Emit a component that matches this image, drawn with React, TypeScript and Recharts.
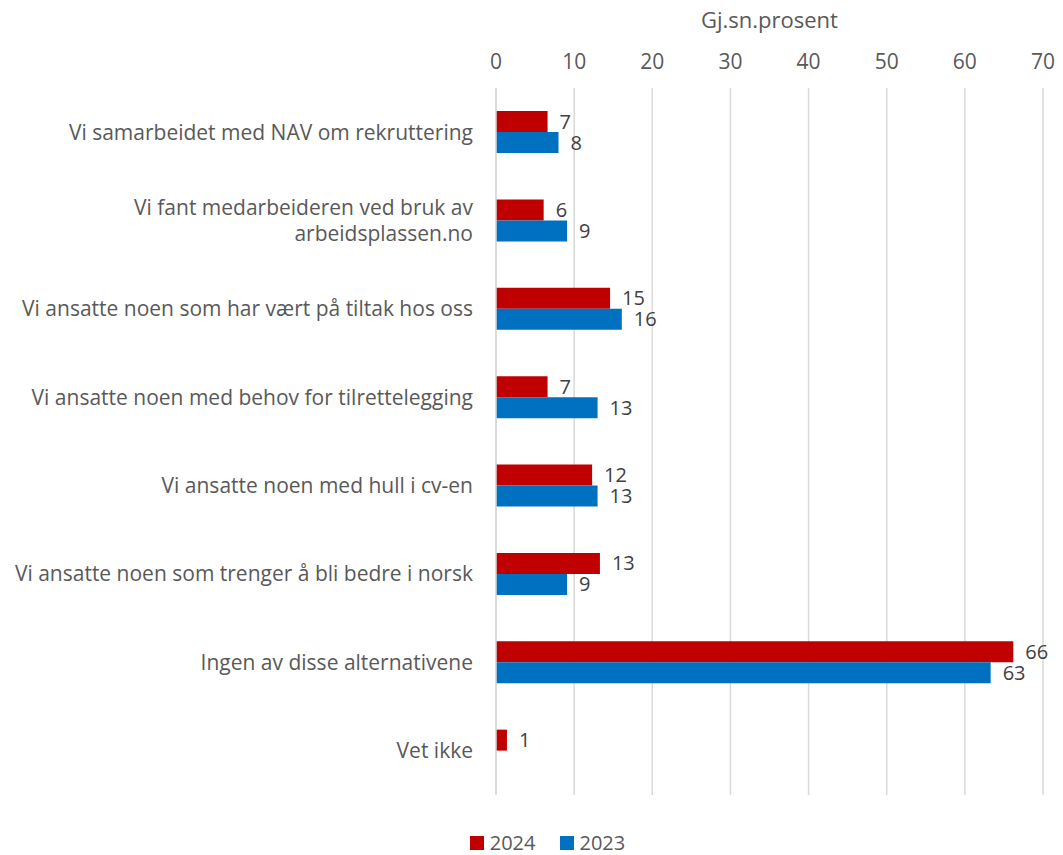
import React from 'react';
import { BarChart, Bar, XAxis, YAxis, CartesianGrid, Legend, LabelList } from 'recharts';

const categories = [
  'Vi samarbeidet med NAV om rekruttering',
  'Vi fant medarbeideren ved bruk av\narbeidsplassen.no',
  'Vi ansatte noen som har vært på tiltak hos oss',
  'Vi ansatte noen med behov for tilrettelegging',
  'Vi ansatte noen med hull i cv-en',
  'Vi ansatte noen som trenger å bli bedre i norsk',
  'Ingen av disse alternativene',
  'Vet ikke',
];
const values2024 = [6.6, 6.1, 14.6, 6.6, 12.3, 13.3, 66.2, 1.4];
const values2023: (number | null)[] = [8.0, 9.1, 16.1, 13.0, 13.0, 9.1, 63.3, null];
const xTicks = [0, 10, 20, 30, 40, 50, 60, 70];
const seriesNames = ['2024', '2023'];
const seriesColors = ['#c00000', '#0070c0'];

const data = categories.map((name, i) => ({
  name,
  y2024: values2024[i],
  y2023: values2023[i],
}));

const FONT = '"Open Sans", sans-serif';
const TEXT = '#595959';
const FS = 21;

const CategoryTick = (props: any) => {
  const { x, y, payload } = props;
  const lines: string[] = String(payload.value).split('\n');
  const lineH = 26;
  const startY = y - ((lines.length - 1) * lineH) / 2;
  return (
    <text x={x} y={startY} textAnchor="end" fill={TEXT} fontSize={FS} fontFamily={FONT}>
      {lines.map((l, i) => (
        <tspan key={i} x={x} y={startY + i * lineH} dy="0.35em">
          {l}
        </tspan>
      ))}
    </text>
  );
};

const AxisTitle = (props: any) => {
  const { viewBox } = props;
  const cx = viewBox.x + viewBox.width / 2;
  return (
    <text x={cx} y={20} dy="0.35em" textAnchor="middle" fill={TEXT} fontSize={22} fontFamily={FONT}>
      Gj.sn.prosent
    </text>
  );
};

const LegendContent = () => (
  <div style={{ display: 'flex', justifyContent: 'center', gap: 24, fontFamily: FONT, fontSize: 20, lineHeight: '24px', color: TEXT }}>
    {seriesNames.map((n, i) => (
      <div key={n} style={{ display: 'flex', alignItems: 'center', gap: 6 }}>
        <span style={{ display: 'inline-block', width: 14, height: 14, background: seriesColors[i] }} />
        <span>{n}</span>
      </div>
    ))}
  </div>
);

const fmt = (v: any) => (v == null ? '' : Math.round(Number(v)));

export default function App() {
  return (
    <div style={{ position: 'absolute', left: 0, top: 0, width: 1063, height: 855, overflow: 'hidden', background: '#fff' }}>
      <BarChart
        width={1063}
        height={855}
        data={data}
        layout="vertical"
        margin={{ top: 0, right: 20, bottom: 36, left: 0 }}
        barGap={0}
        barSize={21}
      >
        <CartesianGrid horizontal={false} stroke="#d9d9d9" strokeWidth={1.5} />
        <XAxis
          type="number"
          orientation="top"
          domain={[0, 70]}
          ticks={xTicks}
          height={88}
          axisLine={false}
          tickLine={false}
          tickSize={0}
          tickMargin={19}
          tick={{ fill: TEXT, fontSize: FS, fontFamily: FONT }}
          label={{ content: <AxisTitle /> }}
        />
        <YAxis
          type="category"
          dataKey="name"
          width={496}
          axisLine={{ stroke: '#d9d9d9', strokeWidth: 1.5 }}
          tickLine={false}
          tickSize={0}
          tickMargin={23}
          interval={0}
          tick={<CategoryTick />}
        />
        <Legend
          verticalAlign="bottom"
          height={24}
          wrapperStyle={{ top: 831, left: 16, width: 1063, height: 24 }}
          content={<LegendContent />}
        />
        <Bar dataKey="y2024" name="2024" fill={seriesColors[0]} isAnimationActive={false}>
          <LabelList dataKey="y2024" position="right" offset={12} formatter={fmt} fill="#404040" fontSize={20} fontFamily={FONT} />
        </Bar>
        <Bar dataKey="y2023" name="2023" fill={seriesColors[1]} isAnimationActive={false}>
          <LabelList dataKey="y2023" position="right" offset={12} formatter={fmt} fill="#404040" fontSize={20} fontFamily={FONT} />
        </Bar>
      </BarChart>
    </div>
  );
}
